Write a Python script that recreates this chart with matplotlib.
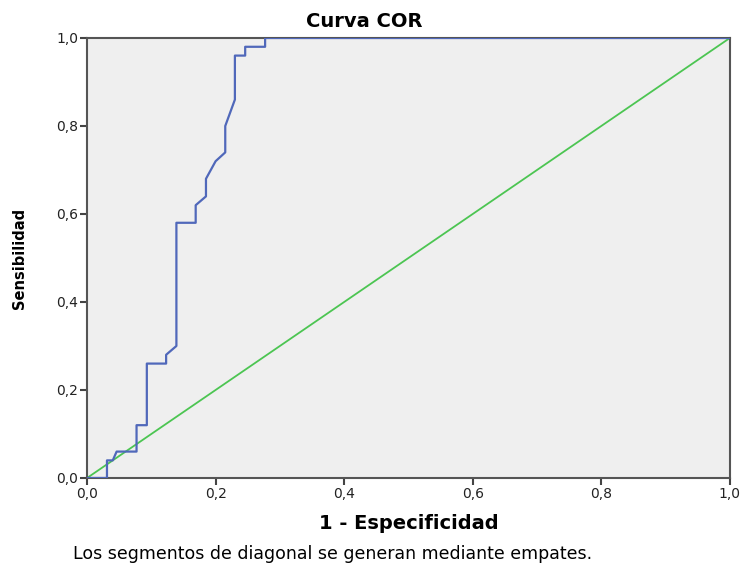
import matplotlib
matplotlib.use('Agg')
import matplotlib.pyplot as plt
from matplotlib.ticker import FuncFormatter

plt.rcParams['font.family'] = ['DejaVu Sans']

# ROC curve points (1 - specificity, sensitivity)
fpr = [0.0, 0.031, 0.031, 0.040, 0.046, 0.077, 0.077, 0.093, 0.093, 0.123,
       0.123, 0.139, 0.139, 0.169, 0.169, 0.185, 0.185, 0.200, 0.215, 0.215,
       0.230, 0.230, 0.246, 0.246, 0.277, 0.277, 1.0]
tpr = [0.0, 0.0, 0.04, 0.04, 0.06, 0.06, 0.12, 0.12, 0.26, 0.26,
       0.28, 0.30, 0.58, 0.58, 0.62, 0.64, 0.68, 0.72, 0.74, 0.80,
       0.86, 0.96, 0.96, 0.98, 0.98, 1.0, 1.0]
ref_x = [0.0, 1.0]
ref_y = [0.0, 1.0]
ticks = [0.0, 0.2, 0.4, 0.6, 0.8, 1.0]

fig = plt.figure(figsize=(7.44, 5.67), dpi=100)
ax = fig.add_axes([0.117, 0.157, 0.864, 0.776])
ax.set_facecolor('#efefef')

ax.plot(ref_x, ref_y, color='#4cc552', lw=1.3, zorder=2)
ax.plot(fpr, tpr, color='#5068ba', lw=1.6, zorder=3)

ax.set_xlim(0, 1)
ax.set_ylim(0, 1)
ax.set_xticks(ticks)
ax.set_yticks(ticks)
fmt = FuncFormatter(lambda v, p: f'{v:.1f}'.replace('.', ','))
ax.xaxis.set_major_formatter(fmt)
ax.yaxis.set_major_formatter(fmt)
ax.tick_params(direction='out', length=5, width=1.5, color='#444444',
               labelsize=10, labelcolor='#222222', pad=1.5)

for s in ax.spines.values():
    s.set_color('#555555')
    s.set_linewidth(1.5)

fig.text(364 / 744, 0.953, 'Curva COR', fontsize=14, fontweight='bold',
         ha='center', va='baseline')
ax.set_xlabel('1 - Especificidad', fontsize=14, fontweight='bold', labelpad=9)
fig.text(20 / 744, 0.545, 'Sensibilidad', rotation=90,
         fontsize=10.5, fontweight='bold', ha='center', va='center')

fig.text(0.098, 0.014, 'Los segmentos de diagonal se generan mediante empates.',
         fontsize=12.5, ha='left', va='baseline')

fig.savefig('out.png', dpi=100)
